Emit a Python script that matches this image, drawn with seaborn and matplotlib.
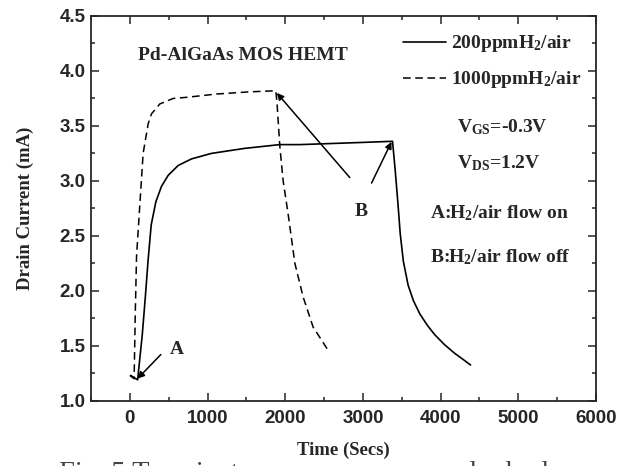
import numpy as np
import pandas as pd
import matplotlib
matplotlib.use("Agg")
import matplotlib.pyplot as plt
import seaborn as sns

# ---- data ----
t_200 = [10, 100, 160, 200, 235, 275, 335, 407, 493, 622, 794, 1051, 1471, 1930, 2188, 2600, 3000, 3381,
         3415, 3450, 3480, 3520, 3582, 3650, 3732, 3830, 3925, 4050, 4183, 4290, 4385]
i_200 = [1.23, 1.19, 1.60, 1.95, 2.28, 2.60, 2.81, 2.95, 3.05, 3.14, 3.20, 3.25, 3.295, 3.33, 3.33, 3.34, 3.35, 3.36,
         3.10, 2.80, 2.52, 2.27, 2.05, 1.91, 1.79, 1.685, 1.60, 1.51, 1.43, 1.375, 1.325]

t_1000 = [0, 55, 70, 86, 129, 171, 236, 279, 386, 557, 729, 1115, 1544, 1879,
          1895, 1931, 1973, 2037, 2124, 2230, 2359, 2560]
i_1000 = [1.23, 1.20, 1.80, 2.31, 2.79, 3.25, 3.52, 3.61, 3.70, 3.75, 3.76, 3.79, 3.81, 3.82,
          3.70, 3.31, 3.00, 2.70, 2.25, 1.945, 1.67, 1.45]

series_labels = ["200ppmH$_2$/air", "1000ppmH$_2$/air"]
x_ticks = [0, 1000, 2000, 3000, 4000, 5000, 6000]
y_ticks = [1.0, 1.5, 2.0, 2.5, 3.0, 3.5, 4.0, 4.5]

df200 = pd.DataFrame({"t": t_200, "i": i_200})
df1000 = pd.DataFrame({"t": t_1000, "i": i_1000})

sns.set_style("ticks")
plt.rcParams.update({
    "font.family": ["Liberation Serif", "DejaVu Serif"],
    "mathtext.fontset": "custom",
    "mathtext.rm": "Liberation Serif:bold",
    "mathtext.it": "Liberation Serif:bold",
    "mathtext.bf": "Liberation Serif:bold",
    "mathtext.default": "rm",
    "axes.linewidth": 1.3,
})

fig = plt.figure(figsize=(6.35, 4.66), dpi=100)
ax = fig.add_axes([91/635, 1-400.7/466, 505/635, 384.7/466])

sns.lineplot(data=df200, x="t", y="i", sort=False, estimator=None, color="black", lw=1.2,
             label=series_labels[0], ax=ax)
sns.lineplot(data=df1000, x="t", y="i", sort=False, estimator=None, color="black", lw=1.1,
             linestyle=(0, (5, 3)), label=series_labels[1], ax=ax)

ax.set_xlim(-500, 6000)
ax.set_ylim(1.0, 4.5)
ax.set_xticks(x_ticks)
ax.set_yticks(y_ticks)
ax.set_xticklabels([str(v) for v in x_ticks])
ax.set_yticklabels([f"{v:.1f}" for v in y_ticks])
ax.xaxis.set_minor_locator(matplotlib.ticker.MultipleLocator(500))
ax.yaxis.set_minor_locator(matplotlib.ticker.MultipleLocator(0.25))
ax.tick_params(which="both", direction="in", top=True, right=True, width=1.1)
ax.tick_params(which="major", length=5.8)
ax.tick_params(which="minor", length=3.2)
ax.tick_params(axis="x", which="major", pad=7)
ax.tick_params(axis="y", which="major", pad=4)
for lab in ax.get_xticklabels() + ax.get_yticklabels():
    lab.set_fontfamily("Liberation Sans")
    lab.set_fontweight("bold")
    lab.set_fontsize(13.5)

ax.set_xlabel("Time (Secs)", fontsize=13.5, fontweight="bold")
ax.set_ylabel("Drain Current (mA)", fontsize=13.5, fontweight="bold")
ax.xaxis.set_label_coords(0.5, -0.106)
ax.yaxis.set_label_coords(-0.113, 0.5)

leg = ax.legend(loc="upper left", bbox_to_anchor=(0.618, 0.955), frameon=False,
                prop={"family": "Liberation Serif", "weight": "bold", "size": 14},
                handlelength=2.2, handletextpad=0.25, labelspacing=0.78, borderpad=0, borderaxespad=0)

tk = dict(fontsize=14, fontweight="bold", va="center", ha="left")
ax.text(103, 4.14, "Pd-AlGaAs MOS HEMT", **tk)
ax.text(4205, 3.49, "V$_{\\rm GS}$=-0.3V", **tk)
ax.text(4205, 3.16, "V$_{\\rm DS}$=1.2V", **tk)
ax.text(3861, 2.71, "A:H$_2$/air flow on", **tk)
ax.text(3861, 2.31, "B:H$_2$/air flow off", **tk)
ax.text(601, 1.47, "A", fontsize=14, fontweight="bold", ha="center", va="center")
ax.text(2982, 2.72, "B", fontsize=14, fontweight="bold", ha="center", va="center")

ap = dict(arrowstyle="-|>", color="black", lw=1.1, mutation_scale=10, shrinkA=0, shrinkB=0)
ax.annotate("", xy=(99, 1.20), xytext=(399, 1.42), arrowprops=ap)
ax.annotate("", xy=(1892, 3.80), xytext=(2831, 3.03), arrowprops=ap)
ax.annotate("", xy=(3368, 3.355), xytext=(3111, 2.98), arrowprops=ap)

fig.text(59/635, 1-461/466, "Fig. 5 Transient response curves under hydrogen adsorption",
         fontsize=20.5, color="#444444", ha="left", va="top")

fig.savefig("out.png", dpi=100)
